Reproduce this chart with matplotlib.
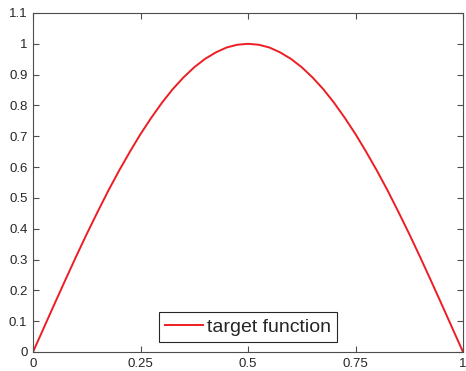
import matplotlib
matplotlib.use("Agg")
from matplotlib import pyplot as plt

# values (x step 0.025)
x_vals = [0.000, 0.025, 0.050, 0.075, 0.100, 0.125, 0.150, 0.175, 0.200, 0.225,
          0.250, 0.275, 0.300, 0.325, 0.350, 0.375, 0.400, 0.425, 0.450, 0.475,
          0.500, 0.525, 0.550, 0.575, 0.600, 0.625, 0.650, 0.675, 0.700, 0.725,
          0.750, 0.775, 0.800, 0.825, 0.850, 0.875, 0.900, 0.925, 0.950, 0.975,
          1.000]
y_vals = [0.000, 0.078, 0.156, 0.233, 0.309, 0.383, 0.454, 0.523, 0.588, 0.649,
          0.707, 0.760, 0.809, 0.853, 0.891, 0.924, 0.951, 0.972, 0.988, 0.997,
          1.000, 0.997, 0.988, 0.972, 0.951, 0.924, 0.891, 0.853, 0.809, 0.760,
          0.707, 0.649, 0.588, 0.523, 0.454, 0.383, 0.309, 0.233, 0.156, 0.078,
          0.000]
x_ticks = [0, 0.25, 0.5, 0.75, 1]
x_labels = ['0', '0.25', '0.5', '0.75', '1']
y_ticks = [0, 0.1, 0.2, 0.3, 0.4, 0.5, 0.6, 0.7, 0.8, 0.9, 1, 1.1]
y_labels = ['0', '0.1', '0.2', '0.3', '0.4', '0.5', '0.6', '0.7', '0.8', '0.9', '1', '1.1']

plt.rcParams['font.family'] = ['Liberation Sans', 'DejaVu Sans']
grey = '#262626'
axgrey = '#4d4d4d'

fig = plt.figure(figsize=(4.66, 3.71), dpi=100)
ax = fig.add_axes([33/466, 19/371, 430/466, 339/371])

ax.plot(x_vals, y_vals, color='#ee1d23', lw=1.4, label='target function')

ax.set_xlim(0, 1)
ax.set_ylim(0, 1.1)
ax.set_xticks(x_ticks)
ax.set_xticklabels(x_labels)
ax.set_yticks(y_ticks)
ax.set_yticklabels(y_labels)
ax.tick_params(direction='in', top=True, right=True, length=4, width=0.8,
               color=axgrey, labelcolor=grey, labelsize=9.5, pad=4)
for s in ax.spines.values():
    s.set_color(axgrey)
    s.set_linewidth(0.8)

leg = ax.legend(loc='lower center', bbox_to_anchor=(0.5, 0.03), fontsize=14,
                fancybox=False, framealpha=1, edgecolor=grey,
                handlelength=1.95, handletextpad=0.2, borderpad=0.32,
                borderaxespad=0)
leg.get_frame().set_linewidth(0.8)
for t in leg.get_texts():
    t.set_color(grey)

fig.savefig('out.png', dpi=100)
